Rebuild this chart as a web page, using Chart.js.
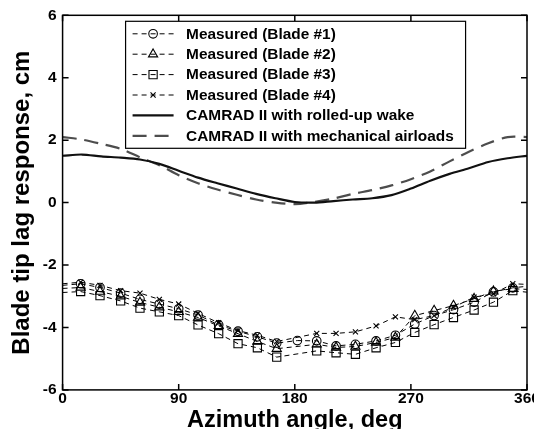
<!DOCTYPE html>
<html><head><meta charset="utf-8">
<script src="https://cdn.jsdelivr.net/npm/chart.js@4.4.0/dist/chart.umd.min.js"></script>
<style>
html,body{margin:0;padding:0;background:#fff;overflow:hidden;}
#wrap{position:relative;width:548px;height:432px;}
</style></head><body>
<div id="wrap"><canvas id="c" width="548" height="432"></canvas></div>
<script>
// ---- data ----
const measuredAz = [0, 14, 29, 45, 60, 75, 90, 105, 121, 136, 151, 166, 182, 197, 212, 227, 243, 258, 273, 288, 303, 319, 334, 349, 360];
const blade1 = [-2.65, -2.60, -2.72, -2.90, -3.10, -3.25, -3.40, -3.60, -3.92, -4.12, -4.30, -4.50, -4.42, -4.43, -4.59, -4.54, -4.43, -4.25, -3.89, -3.62, -3.43, -3.19, -2.86, -2.73, -2.68];
const blade2 = [-2.75, -2.72, -2.85, -3.00, -3.20, -3.35, -3.50, -3.68, -3.95, -4.20, -4.45, -4.68, null, -4.54, -4.64, -4.61, -4.48, -4.32, -3.62, -3.46, -3.30, -3.08, -2.84, -2.76, -2.78];
const blade3 = [-2.88, -2.85, -2.98, -3.15, -3.38, -3.50, -3.62, -3.92, -4.20, -4.52, -4.65, -4.95, null, -4.75, -4.81, -4.86, -4.65, -4.48, -4.16, -3.91, -3.68, -3.44, -3.19, -2.82, -2.87];
const blade4 = [-2.60, -2.55, -2.65, -2.82, -2.90, -3.10, -3.25, -3.55, -3.85, -4.10, -4.25, -4.45, null, -4.19, -4.19, -4.14, -3.95, -3.66, -3.75, -3.62, -3.35, -3.03, -2.92, -2.60, -2.62];

const camradAz = [0, 15, 30, 45, 60, 75, 90, 105, 120, 135, 150, 165, 180, 195, 210, 225, 240, 255, 270, 285, 300, 315, 330, 345, 360];
const rolledUpWake = [1.50, 1.54, 1.48, 1.44, 1.38, 1.24, 1.02, 0.80, 0.62, 0.45, 0.28, 0.14, 0.02, 0.00, 0.05, 0.10, 0.14, 0.24, 0.45, 0.70, 0.92, 1.10, 1.30, 1.42, 1.50];
const mechanicalAirloads = [2.10, 2.02, 1.88, 1.72, 1.45, 1.20, 0.88, 0.62, 0.42, 0.25, 0.10, 0.00, -0.05, 0.02, 0.13, 0.28, 0.40, 0.55, 0.75, 1.00, 1.32, 1.63, 1.90, 2.10, 2.10];

const xTicks = [0, 90, 180, 270, 360];
const yTicks = [-6, -4, -2, 0, 2, 4, 6];

const labels = ['Measured (Blade #1)', 'Measured (Blade #2)', 'Measured (Blade #3)', 'Measured (Blade #4)',
  'CAMRAD II with rolled-up wake', 'CAMRAD II with mechanical airloads'];

// ---- build ----
const FONT = '"Liberation Sans", Arial, sans-serif';
const toXY = (xs, ys) => xs.map((x, i) => ({x, y: ys[i]}));
const radii = r => measuredAz.map((a, i) => (i === 0 || i === measuredAz.length - 1) ? 0 : r);

function measuredSet(label, ys, style, r) {
  return {
    label, data: toXY(measuredAz, ys), borderColor: '#000', borderWidth: 1, borderDash: [5, 4],
    pointStyle: style, pointRadius: radii(r), pointHoverRadius: 0, pointBorderColor: '#000',
    pointBackgroundColor: 'rgba(255,255,255,0)', pointBorderWidth: 1.1, spanGaps: true,
    tension: 0, fill: false, legR: r
  };
}

const datasets = [
  measuredSet(labels[0], blade1, 'circle', 4.3),
  measuredSet(labels[1], blade2, 'triangle', 5.3),
  measuredSet(labels[2], blade3, 'rect', 5.8),
  measuredSet(labels[3], blade4, 'crossRot', 3.6),
  { label: labels[4], data: toXY(camradAz, rolledUpWake), borderColor: '#111', borderWidth: 2.2,
    pointRadius: 0, tension: 0.3, fill: false },
  { label: labels[5], data: toXY(camradAz, mechanicalAirloads), borderColor: '#4d4d4d', borderWidth: 2.2,
    borderDash: [14, 8], pointRadius: 0, tension: 0.3, fill: false }
];

function marker(ctx, style, x, y, r) {
  ctx.beginPath();
  if (style === 'circle') { ctx.arc(x, y, r, 0, Math.PI * 2); }
  else if (style === 'triangle') {
    const s = r * 3 / Math.sqrt(3), h = s * Math.sqrt(3) / 2;
    ctx.moveTo(x, y - 2 * h / 3); ctx.lineTo(x + s / 2, y + h / 3); ctx.lineTo(x - s / 2, y + h / 3); ctx.closePath();
  } else if (style === 'rect') {
    const s = r * Math.SQRT1_2; ctx.rect(x - s, y - s, 2 * s, 2 * s);
  } else if (style === 'crossRot') {
    const d = r * Math.SQRT1_2;
    ctx.moveTo(x - d, y - d); ctx.lineTo(x + d, y + d); ctx.moveTo(x + d, y - d); ctx.lineTo(x - d, y + d);
  }
  ctx.stroke();
}

const framePlugin = {
  id: 'frame',
  afterDatasetsDraw(chart) {
    const {ctx, chartArea: a, scales: {x, y}} = chart;
    ctx.save();
    ctx.strokeStyle = '#000'; ctx.lineWidth = 1.5; ctx.setLineDash([]);
    ctx.strokeRect(a.left, a.top, a.right - a.left, a.bottom - a.top);
    const L = 6;
    ctx.beginPath();
    x.ticks.forEach(t => { const px = x.getPixelForValue(t.value);
      ctx.moveTo(px, a.bottom); ctx.lineTo(px, a.bottom - L); ctx.moveTo(px, a.top); ctx.lineTo(px, a.top + L); });
    y.ticks.forEach(t => { const py = y.getPixelForValue(t.value);
      ctx.moveTo(a.left, py); ctx.lineTo(a.left + L, py); ctx.moveTo(a.right, py); ctx.lineTo(a.right - L, py); });
    ctx.stroke();
    ctx.restore();
  }
};

const legendPlugin = {
  id: 'boxLegend',
  afterDatasetsDraw(chart) {
    const {ctx, chartArea: a} = chart;
    const bx = a.left + 63, by = a.top + 6, bw = 340, bh = 127;
    ctx.save();
    ctx.fillStyle = '#fff'; ctx.fillRect(bx, by, bw, bh);
    ctx.strokeStyle = '#000'; ctx.lineWidth = 1.2; ctx.setLineDash([]);
    ctx.strokeRect(bx, by, bw, bh);
    ctx.font = 'bold 15.4px ' + FONT; ctx.textBaseline = 'middle'; ctx.fillStyle = '#000';
    chart.data.datasets.forEach((ds, i) => {
      const cy = by + 12.5 + i * 20.4;
      const x0 = bx + 7, x1 = bx + 48;
      ctx.strokeStyle = ds.borderColor; ctx.lineWidth = ds.borderWidth;
      ctx.setLineDash(ds.borderDash || []);
      ctx.beginPath(); ctx.moveTo(x0, cy); ctx.lineTo(x1, cy); ctx.stroke();
      ctx.setLineDash([]);
      if (ds.pointStyle) { ctx.lineWidth = 1.1; marker(ctx, ds.pointStyle, (x0 + x1) / 2, cy, ds.legR); }
      ctx.fillText(ds.label, bx + 60.5, cy + 0.5);
    });
    ctx.restore();
  }
};

new Chart(document.getElementById('c'), {
  type: 'line',
  data: { datasets },
  options: {
    responsive: false, animation: false, devicePixelRatio: 1,
    layout: { padding: { left: 8, right: 21, top: 8, bottom: 0 } },
    plugins: { legend: { display: false }, tooltip: { enabled: false } },
    scales: {
      x: {
        type: 'linear', min: 0, max: 360,
        afterBuildTicks: s => { s.ticks = xTicks.map(v => ({value: v})); },
        ticks: { color: '#000', font: { family: FONT, size: 15.5, weight: 'bold' }, padding: 0, maxRotation: 0 },
        grid: { display: false, drawTicks: false }, border: { display: false },
        title: { display: true, text: 'Azimuth angle, deg', color: '#000',
          font: { family: FONT, size: 23.5, weight: 'bold', lineHeight: 1.0 }, padding: { top: 0, bottom: 0 } }
      },
      y: {
        type: 'linear', min: -6, max: 6,
        afterBuildTicks: s => { s.ticks = yTicks.map(v => ({value: v})); },
        ticks: { color: '#000', font: { family: FONT, size: 15.5, weight: 'bold' }, padding: 6 },
        grid: { display: false, drawTicks: false }, border: { display: false },
        title: { display: true, text: 'Blade tip lag response, cm', color: '#000',
          font: { family: FONT, size: 24, weight: 'bold', lineHeight: 1.2 }, padding: { top: 0, bottom: 0 } }
      }
    }
  },
  plugins: [framePlugin, legendPlugin]
});
</script>
</body></html>
